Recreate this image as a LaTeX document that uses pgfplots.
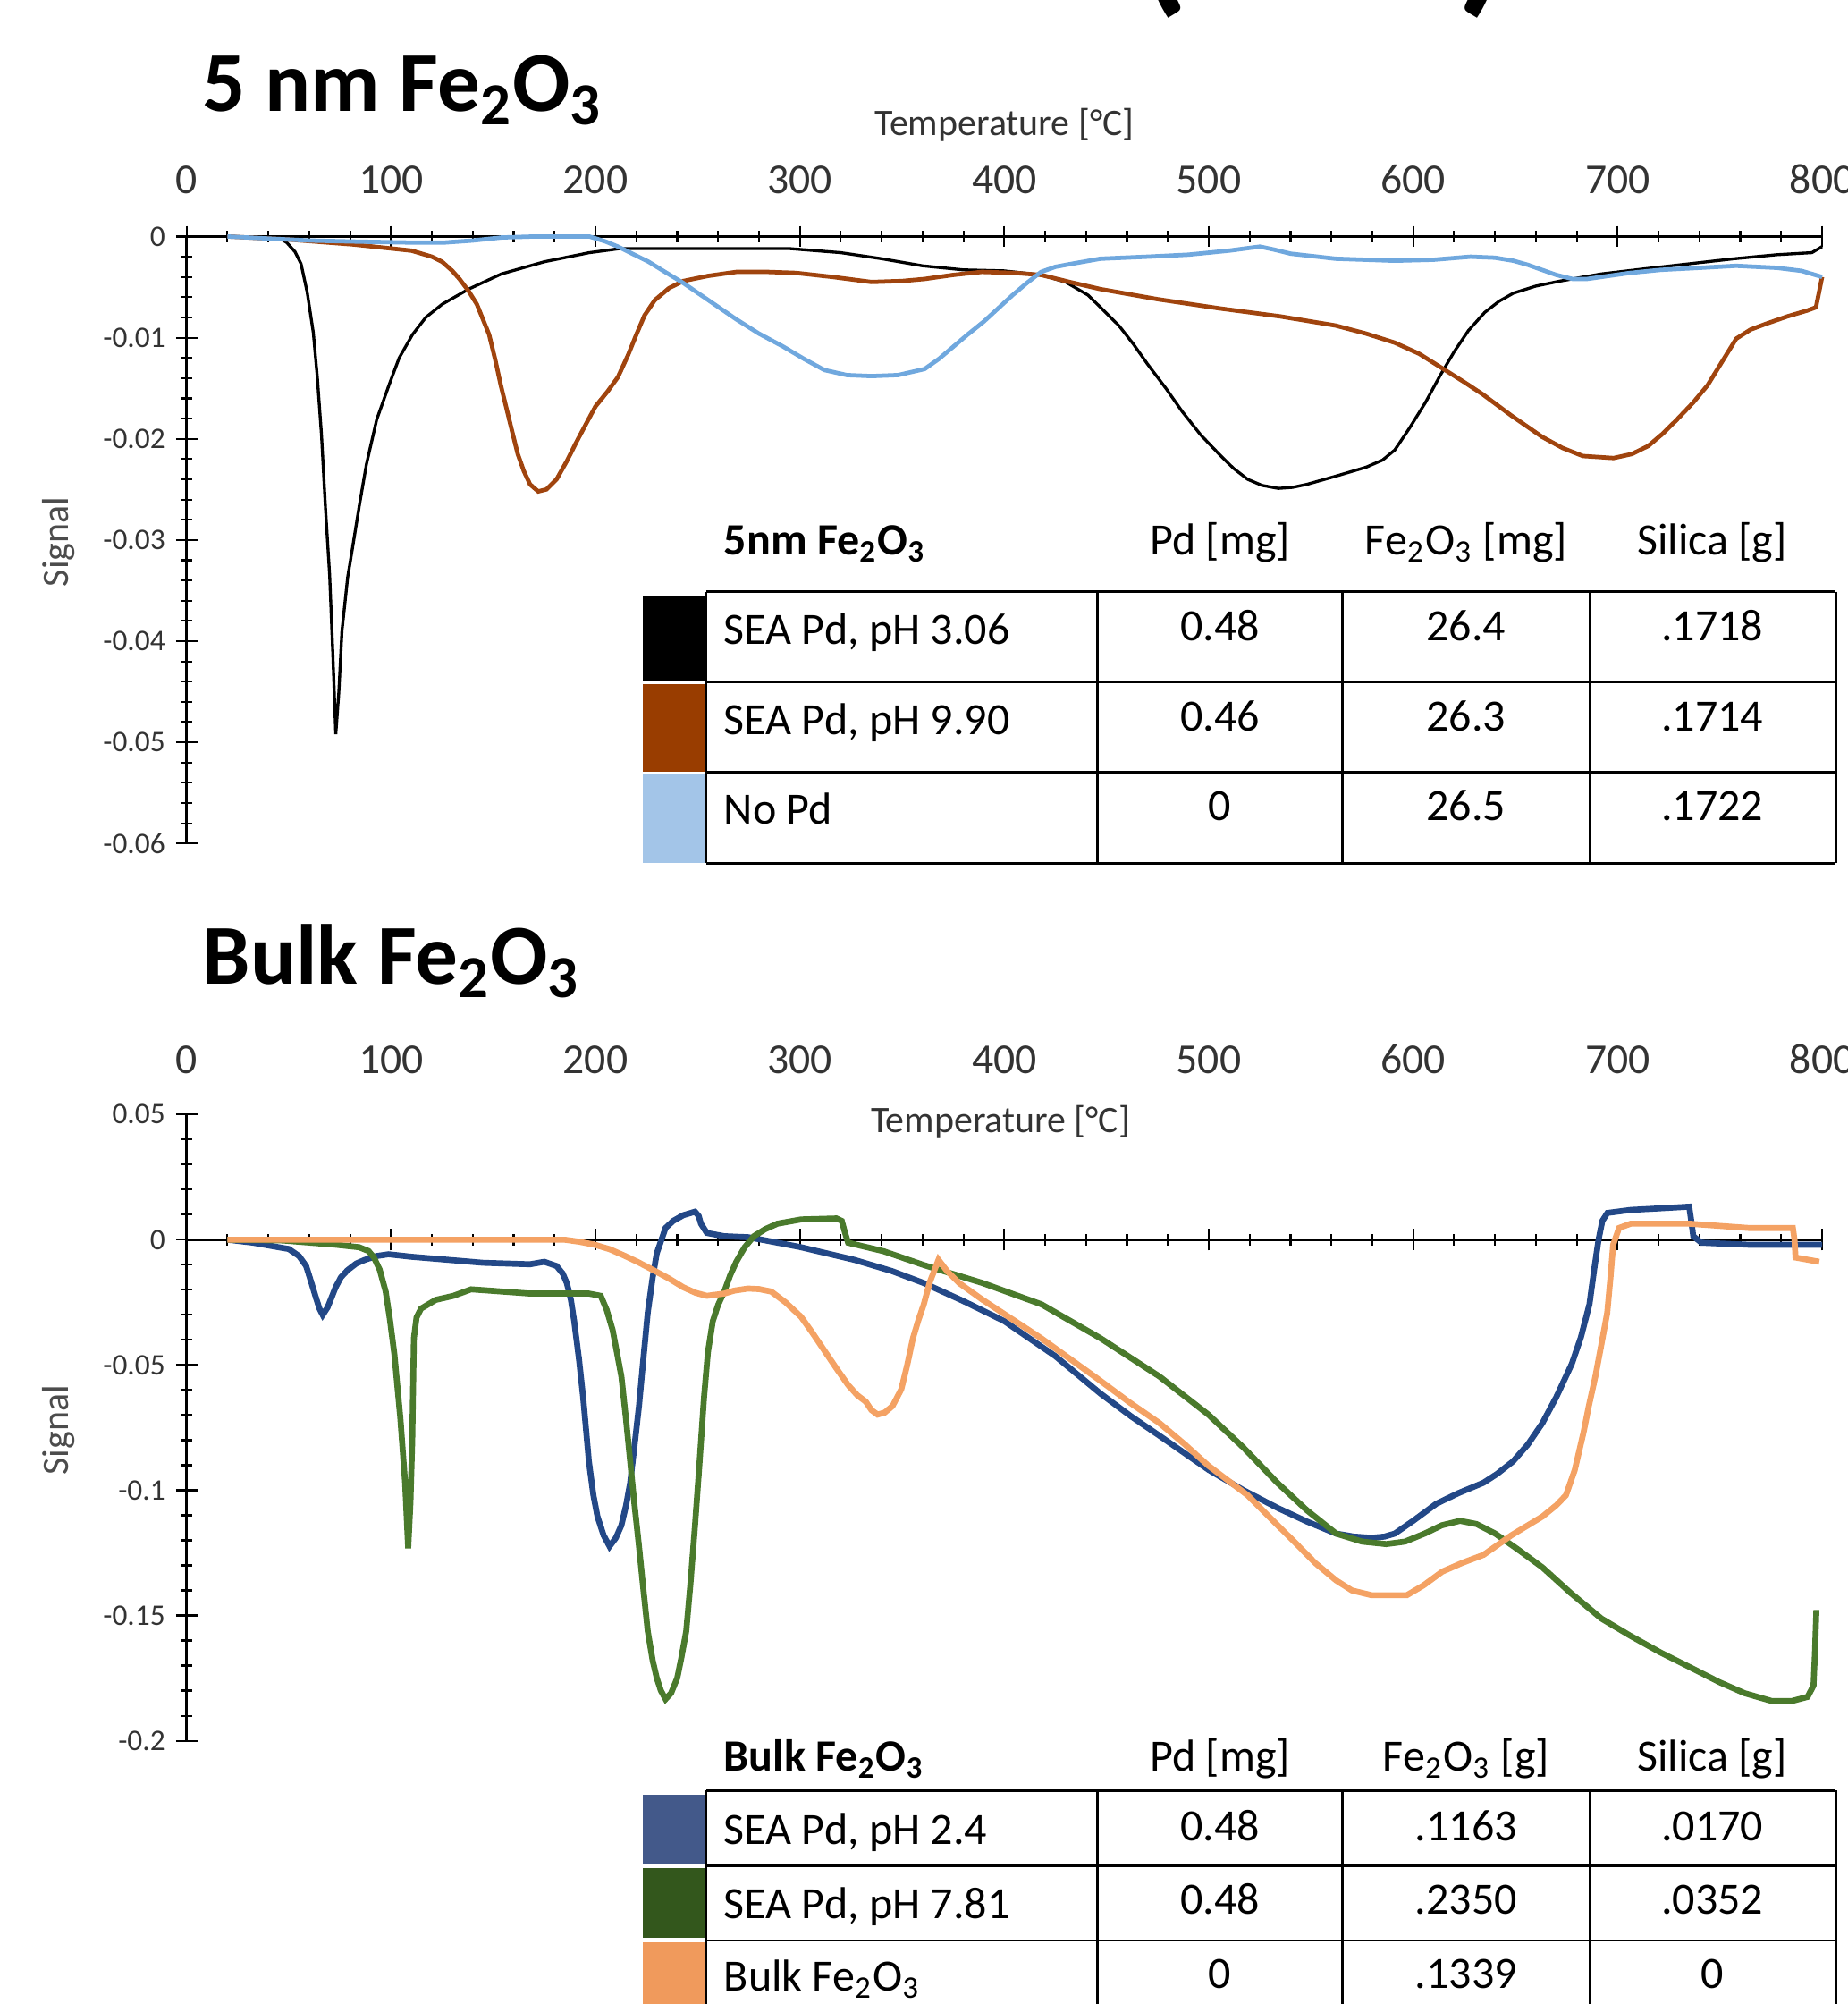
\documentclass[border=0pt]{standalone}
\usepackage{fontspec}
\setmainfont{Carlito}
\usepackage{pgfplots}
\pgfplotsset{compat=1.18}

\definecolor{cBrown}{RGB}{160,68,14}
\definecolor{cBlue}{RGB}{112,168,222}
\definecolor{cNavy}{RGB}{35,72,135}
\definecolor{cGreen}{RGB}{74,122,44}
\definecolor{cOrange}{RGB}{244,162,100}
\definecolor{sBrown}{RGB}{153,61,0}
\definecolor{sBlue}{RGB}{163,197,232}
\definecolor{sNavy}{RGB}{67,89,138}
\definecolor{sGreen}{RGB}{51,87,28}
\definecolor{sOrange}{RGB}{240,154,92}

\pgfplotsset{tpr/.style={
  scale only axis, width=384pt, xmin=0, xmax=800, clip=false,
  axis y line*=left,
  xtick={0,100,...,800}, minor x tick num=4, minor y tick num=4,
  xticklabel={\phantom{0}}, tick align=center,
  major tick length=5pt, minor tick length=2.6pt,
  axis line style={line width=0.5pt},
  every tick/.style={black, line width=0.45pt},
  scaled y ticks=false,
  yticklabel style={font=\fontsize{7}{8}\selectfont, text=black!80, xshift=1pt},
  /pgf/number format/fixed,
  /pgf/number format/assume math mode=true}}

\begin{document}
\begin{tikzpicture}

% ---------- 5 nm Fe2O3 ----------
\begin{axis}[tpr, at={(43.8pt,-198pt)}, anchor=south west, height=142.5pt,
  ymin=-0.06, ymax=0, axis x line*=top,
  ytick={-0.06,-0.05,-0.04,-0.03,-0.02,-0.01,0}]
\addplot[black, line width=0.7pt] coordinates {
(20,0)(45,-0.0001)(49,-0.0006)(53,-0.0015)(56,-0.0027)(59,-0.0055)(62,-0.0095)(64,-0.014)(66,-0.0196)(68,-0.027)(70,-0.0335)(71.5,-0.041)(73,-0.0492)(74.5,-0.045)(76,-0.039)(78.8,-0.0337)(81,-0.031)(84.5,-0.0266)(88,-0.0225)(93,-0.0181)(99,-0.0147)(104,-0.012)(110.5,-0.0097)(117,-0.008)(125,-0.0067)(138,-0.0052)(154,-0.0037)(175,-0.0025)(197,-0.0016)(212,-0.0012)(250,-0.0012)(295,-0.0012)(320,-0.0016)(340,-0.0022)(360,-0.0029)(380,-0.0033)(400,-0.0034)(418,-0.0038)(430,-0.0045)(441,-0.0058)(448,-0.0072)(456,-0.0088)(463,-0.0106)(470,-0.0126)(479,-0.015)(487,-0.0173)(496,-0.0196)(505,-0.0215)(512,-0.0229)(519,-0.024)(526,-0.0246)(534,-0.0249)(541,-0.0248)(548,-0.0245)(562,-0.0237)(577,-0.0228)(585,-0.0221)(591,-0.0211)(598,-0.019)(606,-0.0164)(613,-0.0138)(620,-0.0114)(627,-0.0093)(635,-0.0075)(642,-0.0064)(649,-0.0056)(660,-0.0049)(672,-0.0044)(692,-0.0037)(713,-0.0032)(735,-0.0027)(757,-0.0022)(778,-0.0018)(795,-0.0016)(800,-0.0010)};
\addplot[cBrown, line width=1pt] coordinates {
(20,0)(50,-0.0003)(82,-0.0008)(110,-0.0014)(120,-0.002)(125,-0.0025)(130,-0.0034)(133.5,-0.0042)(138,-0.0054)(142,-0.0067)(148,-0.0097)(151,-0.0122)(153.7,-0.0147)(156.5,-0.017)(159.4,-0.0194)(162,-0.0215)(165,-0.0232)(168,-0.0245)(172,-0.0252)(176,-0.0250)(181,-0.0240)(186,-0.0222)(191,-0.0202)(196,-0.0183)(200,-0.0168)(206,-0.0153)(211,-0.0139)(216,-0.0117)(220,-0.0097)(224,-0.0078)(229,-0.0063)(236,-0.0051)(243,-0.0044)(255,-0.0039)(269,-0.0035)(284,-0.0035)(298,-0.0036)(316,-0.004)(335,-0.0045)(350,-0.0044)(361,-0.0042)(375,-0.0038)(389,-0.0035)(405,-0.0036)(418,-0.0038)(432,-0.0045)(447,-0.0052)(475,-0.0062)(505,-0.0071)(535,-0.0079)(562,-0.0088)(577,-0.0096)(591,-0.0105)(603,-0.0116)(614,-0.013)(625,-0.0144)(634,-0.0156)(648,-0.0177)(663,-0.0198)(673,-0.0209)(683,-0.0217)(698,-0.0219)(707,-0.0215)(715,-0.0207)(722,-0.0195)(729,-0.0181)(737,-0.0164)(744,-0.0147)(751,-0.0124)(758,-0.0101)(765,-0.0092)(773,-0.0086)(783,-0.0079)(793,-0.0073)(797,-0.0070)(799,-0.0050)(800,-0.0040)};
\addplot[cBlue, line width=1pt] coordinates {
(20,0)(40,-0.0002)(60,-0.0004)(82,-0.0005)(110,-0.0006)(126,-0.0006)(140,-0.0004)(154,-0.0001)(170,0)(197,0)(205,-0.0005)(211,-0.001)(218,-0.0017)(226,-0.0025)(234,-0.0035)(243,-0.0046)(256,-0.0064)(269,-0.0082)(280,-0.0096)(292,-0.0109)(302,-0.0121)(312,-0.0132)(323,-0.0137)(335,-0.0138)(348,-0.0137)(361,-0.0131)(368,-0.0121)(375,-0.0109)(382,-0.0097)(390,-0.0084)(397,-0.0071)(404,-0.0058)(411,-0.0046)(418,-0.0035)(425,-0.003)(433,-0.0027)(447,-0.0022)(470,-0.002)(490,-0.0018)(510,-0.0014)(525,-0.001)(532,-0.0013)(540,-0.0017)(562,-0.0022)(591,-0.0024)(610,-0.0023)(628,-0.002)(640,-0.0021)(649,-0.0024)(656,-0.0028)(663,-0.0033)(670,-0.0038)(678,-0.0042)(685,-0.0042)(692,-0.004)(706,-0.0036)(721,-0.0033)(740,-0.0031)(758,-0.0029)(778,-0.0031)(790,-0.0034)(800,-0.004)};
\end{axis}

% ---------- Bulk Fe2O3 ----------
\begin{axis}[tpr, at={(43.8pt,-408.6pt)}, anchor=south west, height=147pt,
  ymin=-0.2, ymax=0.05, axis x line*=middle,
  ytick={-0.2,-0.15,-0.1,-0.05,0,0.05}]
\addplot[cNavy, line width=1.4pt] coordinates {
(20,0)(32.6,-0.0012)(45,-0.003)(50,-0.0037)(55,-0.0065)(58.5,-0.0105)(61,-0.017)(63,-0.0224)(65,-0.0275)(66.6,-0.030)(69,-0.027)(72.9,-0.019)(75.5,-0.015)(78.7,-0.0122)(83,-0.0095)(87.3,-0.008)(93,-0.0065)(98.8,-0.0058)(110,-0.0068)(127.7,-0.008)(145,-0.0092)(168,-0.0098)(175,-0.0088)(181,-0.0105)(184,-0.0135)(186,-0.0173)(188,-0.024)(189.6,-0.0325)(192,-0.048)(194,-0.063)(196.8,-0.0885)(199,-0.102)(201,-0.1105)(204,-0.118)(206.9,-0.1224)(210,-0.119)(212.7,-0.114)(215,-0.106)(217,-0.097)(219,-0.083)(221.3,-0.0664)(223.5,-0.047)(225.6,-0.029)(228,-0.015)(230,-0.0054)(234.3,0.0047)(238,0.0075)(243,0.0098)(248.7,0.0112)(250.5,0.0095)(251.6,0.0064)(254.5,0.0027)(263,0.0014)(274.6,0.001)(283.3,-0.0003)(300,-0.0029)(326.5,-0.008)(345,-0.0125)(360.6,-0.0173)(380,-0.0245)(400,-0.0325)(425,-0.0465)(447,-0.0614)(462,-0.0705)(476,-0.0783)(500,-0.0919)(517,-0.1)(533.5,-0.107)(548,-0.1125)(562.3,-0.1173)(571,-0.1185)(579.6,-0.119)(586,-0.1185)(591,-0.1173)(600,-0.1122)(611.3,-0.1054)(622,-0.1012)(634.4,-0.097)(641,-0.0935)(648.8,-0.0885)(656,-0.0818)(663.2,-0.0732)(670,-0.0628)(677.6,-0.0495)(682,-0.039)(686.2,-0.0258)(688.5,-0.012)(690.6,-0.0003)(692.5,0.0075)(695,0.0107)(706.4,0.0119)(720,0.0125)(735,0.0132)(736,0.0075)(737,0.0014)(741,-0.0012)(764,-0.002)(800,-0.002)};
\addplot[cGreen, line width=1.4pt] coordinates {
(20,0)(47,-0.0003)(72.9,-0.002)(84.4,-0.003)(89,-0.0045)(91.6,-0.007)(94.5,-0.012)(97.4,-0.0207)(99.5,-0.032)(101.7,-0.046)(104.6,-0.0715)(106.9,-0.097)(108.4,-0.1232)(109.5,-0.105)(110.4,-0.08)(111.2,-0.0393)(112.5,-0.031)(114.7,-0.0275)(121.9,-0.024)(130.5,-0.0224)(139.2,-0.0198)(147.8,-0.0203)(168,-0.0215)(196.8,-0.0215)(202.6,-0.0224)(205.5,-0.028)(208.4,-0.036)(210.5,-0.045)(212.7,-0.0546)(215,-0.072)(217,-0.0885)(219,-0.105)(221.3,-0.1224)(223.5,-0.14)(225.6,-0.1563)(228,-0.168)(230,-0.175)(232,-0.180)(234.3,-0.1834)(237,-0.181)(240,-0.175)(242,-0.167)(244.4,-0.1563)(246.5,-0.137)(248.7,-0.114)(251,-0.088)(253.1,-0.063)(255,-0.045)(257.4,-0.0325)(260,-0.026)(263,-0.0207)(266,-0.014)(268.9,-0.0088)(273,-0.003)(277.5,0.0014)(283,0.0042)(289,0.0064)(300.6,0.0081)(317.9,0.0085)(320.5,0.0075)(322,0.003)(323.6,-0.0012)(341,-0.0046)(360.6,-0.0101)(389.4,-0.0173)(418.2,-0.0258)(447,-0.0393)(475.9,-0.0546)(499.8,-0.0698)(517,-0.083)(533.5,-0.097)(548,-0.108)(562.3,-0.1173)(575,-0.1205)(586.8,-0.1215)(596,-0.1205)(605.6,-0.1173)(614,-0.114)(622.9,-0.1122)(631,-0.1135)(640.1,-0.1173)(651,-0.1235)(663.2,-0.1308)(677,-0.141)(692,-0.1512)(706,-0.158)(720.8,-0.1647)(735,-0.1705)(749.7,-0.1766)(762,-0.181)(775.6,-0.1842)(785,-0.1842)(792.9,-0.1825)(795.8,-0.178)(796.5,-0.165)(797.2,-0.1478)};
\addplot[cOrange, line width=1.4pt] coordinates {
(20,0)(100,0)(185,0)(192,-0.0008)(199.7,-0.002)(207,-0.0038)(214,-0.0063)(221,-0.009)(228.5,-0.0122)(236,-0.0155)(243,-0.019)(249,-0.0212)(254.5,-0.0224)(263,-0.0215)(268,-0.0203)(274.6,-0.0195)(280,-0.0197)(286,-0.0207)(293,-0.025)(300.6,-0.0308)(306,-0.037)(312.1,-0.0444)(318,-0.0515)(323.6,-0.058)(328,-0.062)(332.3,-0.0647)(335,-0.068)(338,-0.0698)(341.5,-0.069)(345.3,-0.0664)(349.6,-0.0597)(352.5,-0.05)(355.3,-0.0393)(358,-0.032)(360.6,-0.0258)(363.5,-0.017)(367.8,-0.008)(372,-0.0125)(377.9,-0.0173)(389.4,-0.024)(404,-0.0318)(418,-0.0393)(432,-0.0475)(447,-0.0563)(461,-0.0648)(475.9,-0.0732)(488,-0.0815)(499.8,-0.0902)(519,-0.102)(530,-0.111)(542,-0.1207)(552,-0.129)(562.3,-0.136)(570,-0.14)(579.6,-0.1419)(596.9,-0.1419)(605,-0.138)(614.2,-0.1325)(624,-0.129)(634.4,-0.1258)(648,-0.118)(663.2,-0.1105)(670,-0.106)(674.7,-0.102)(679,-0.092)(683.4,-0.0766)(686,-0.066)(689.1,-0.0546)(692,-0.042)(694.9,-0.0292)(696.5,-0.015)(697.8,-0.002)(700.7,0.0047)(706.4,0.0064)(735,0.0064)(764,0.0047)(785.7,0.0047)(786.5,0)(787,-0.0071)(798.6,-0.0088)};
\end{axis}

\begin{scope}[x=0.3pt, y=-0.3pt]
% cut-off heading above the page
\node[anchor=base west, font=\fontsize{40}{40}\selectfont\bfseries, inner sep=0pt] at (888,-6) {(\hspace{63pt})};
% panel titles
\node[anchor=base west, font=\fontsize{20}{24}\selectfont\bfseries, inner sep=0pt] at (158,87) {5 nm Fe\textsubscript{2}O\textsubscript{3}};
\node[anchor=base west, font=\fontsize{20}{24}\selectfont\bfseries, inner sep=0pt] at (158,770) {Bulk Fe\textsubscript{2}O\textsubscript{3}};
% x tick labels and axis titles
\foreach \v in {0,100,...,800} {
  \node[anchor=base, inner sep=0pt, text=black!80, font=\fontsize{10}{12}\selectfont] at ({146+1.6*\v},151.5) {\v};
  \node[anchor=base, inner sep=0pt, text=black!80, font=\fontsize{10}{12}\selectfont] at ({146+1.6*\v},840) {\v};
}
\node[anchor=base, inner sep=0pt, text=black!80, font=\fontsize{8.8}{10}\selectfont] at (786,106) {Temperature [°C]};
\node[anchor=base, inner sep=0pt, text=black!80, font=\fontsize{8.8}{10}\selectfont] at (783,886) {Temperature [°C]};
\node[rotate=90, inner sep=0pt, text=black!70, font=\fontsize{8.8}{10}\selectfont] at (46,424) {Signal};
\node[rotate=90, inner sep=0pt, text=black!70, font=\fontsize{8.8}{10}\selectfont] at (46,1119) {Signal};

% ---------- table 1 ----------
\fill[black] (503,466.5) rectangle (551.5,533);
\fill[sBrown] (503,535) rectangle (551.5,603.5);
\fill[sBlue] (503,606) rectangle (551.5,675.5);
\foreach \yy in {463,533.8,604.2,675.4} \draw[line width=0.6pt] (552.7,\yy) -- (1436.7,\yy);
\foreach \xx in {552.7,858.8,1050.8,1244,1436.7} \draw[line width=0.6pt] (\xx,463) -- (\xx,675.4);
\begin{scope}[every node/.style={inner sep=0pt, font=\fontsize{10.5}{12}\selectfont}]
\node[anchor=base west] at (566,434) {\bfseries 5nm Fe\textsubscript{2}O\textsubscript{3}};
\node[anchor=base] at (954.8,434) {Pd [mg]};
\node[anchor=base] at (1147.4,434) {Fe\textsubscript{2}O\textsubscript{3} [mg]};
\node[anchor=base] at (1340,434) {Silica [g]};
\node[anchor=base west] at (566,504) {SEA Pd, pH 3.06};
\node[anchor=base west] at (566,575) {SEA Pd, pH 9.90};
\node[anchor=base west] at (566,645) {No Pd};
\node[anchor=base] at (954.8,501) {0.48};
\node[anchor=base] at (1147.4,501) {26.4};
\node[anchor=base] at (1340,501) {.1718};
\node[anchor=base] at (954.8,572) {0.46};
\node[anchor=base] at (1147.4,572) {26.3};
\node[anchor=base] at (1340,572) {.1714};
\node[anchor=base] at (954.8,642) {0};
\node[anchor=base] at (1147.4,642) {26.5};
\node[anchor=base] at (1340,642) {.1722};
\end{scope}

% ---------- table 2 ----------
\fill[sNavy] (503,1404.4) rectangle (551.5,1458);
\fill[sGreen] (503,1461.5) rectangle (551.5,1516.4);
\fill[sOrange] (503,1520) rectangle (551.5,1580);
\foreach \yy in {1401,1459.7,1518.3} \draw[line width=0.6pt] (552.7,\yy) -- (1436.7,\yy);
\foreach \xx in {552.7,858.8,1050.8,1244,1436.7} \draw[line width=0.6pt] (\xx,1401) -- (\xx,1580);
\begin{scope}[every node/.style={inner sep=0pt, font=\fontsize{10.5}{12}\selectfont}]
\node[anchor=base west] at (566,1386) {\bfseries Bulk Fe\textsubscript{2}O\textsubscript{3}};
\node[anchor=base] at (954.8,1386) {Pd [mg]};
\node[anchor=base] at (1147.4,1386) {Fe\textsubscript{2}O\textsubscript{3} [g]};
\node[anchor=base] at (1340,1386) {Silica [g]};
\node[anchor=base west] at (566,1443) {SEA Pd, pH 2.4};
\node[anchor=base west] at (566,1501) {SEA Pd, pH 7.81};
\node[anchor=base west] at (566,1558) {Bulk Fe\textsubscript{2}O\textsubscript{3}};
\node[anchor=base] at (954.8,1440) {0.48};
\node[anchor=base] at (1147.4,1440) {.1163};
\node[anchor=base] at (1340,1440) {.0170};
\node[anchor=base] at (954.8,1498) {0.48};
\node[anchor=base] at (1147.4,1498) {.2350};
\node[anchor=base] at (1340,1498) {.0352};
\node[anchor=base] at (954.8,1556) {0};
\node[anchor=base] at (1147.4,1556) {.1339};
\node[anchor=base] at (1340,1556) {0};
\end{scope}

\pgfresetboundingbox
\useasboundingbox (0,0) rectangle (1446,1568);
\end{scope}
\end{tikzpicture}
\end{document}
